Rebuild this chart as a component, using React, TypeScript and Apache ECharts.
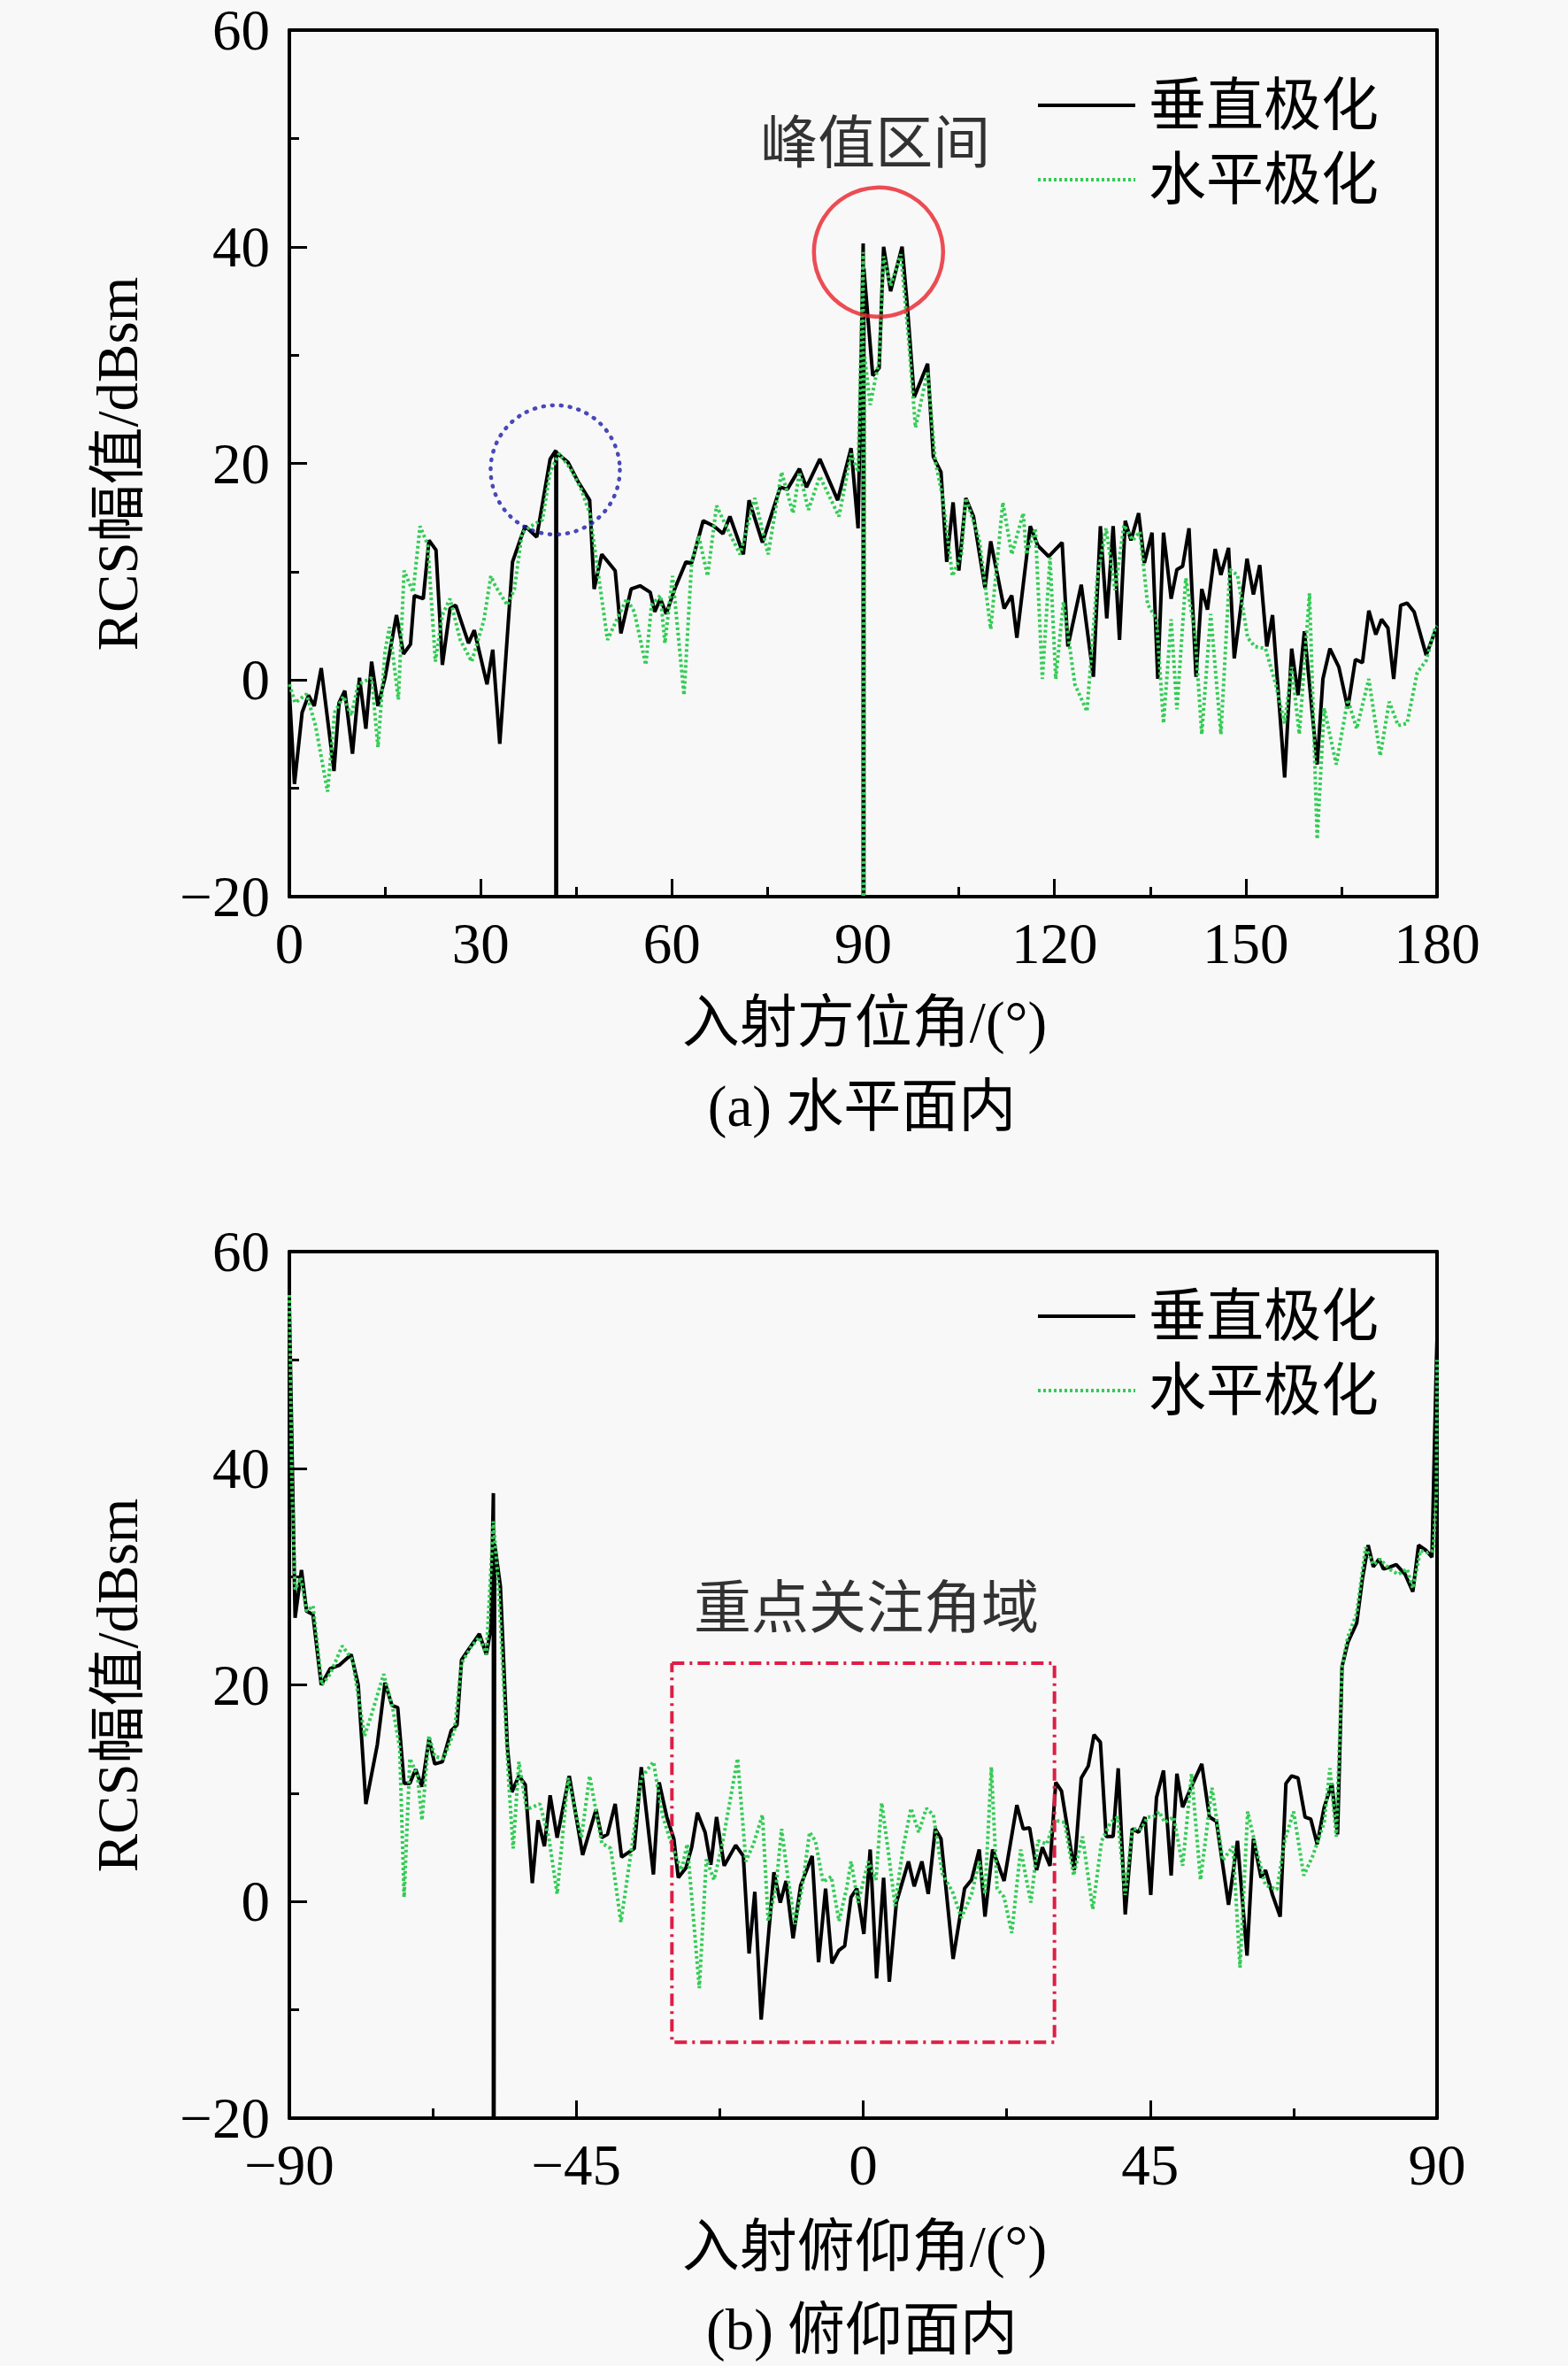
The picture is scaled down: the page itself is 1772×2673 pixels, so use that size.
import { useEffect, useRef } from "react";
import * as echarts from "echarts";

const FONT = "'Liberation Serif', 'Noto Sans CJK SC', serif";
const LEGEND_NAMES = ["垂直极化", "水平极化"];
const GREEN = "#33cc55";

// (a) horizontal plane: [azimuth deg, RCS dBsm]
const AZ_VERTICAL: [number, number][] = [
  [0, -1], [0.8, -9.6], [2.0, -3.0], [3.0, -1.4], [3.9, -2.4], [5.0, 1.1], [7.0, -8.4], [7.8, -2.1],
  [8.7, -1.0], [9.9, -6.8], [11.0, 0.2], [12.0, -4.5], [12.9, 1.7], [13.9, -2.4], [15.0, 0.2], [16.8, 6.0],
  [17.9, 2.4], [19.0, 3.3], [19.6, 7.8], [21.0, 7.5], [21.9, 12.9], [23.0, 12.0], [24.0, 1.4], [25.2, 6.6],
  [26.1, 6.9], [28.1, 3.4], [29.0, 4.6], [31.0, -0.4], [31.9, 2.8], [33.0, -5.9], [35.0, 10.9], [36.3, 13.1],
  [37.0, 14.2], [38.8, 13.2], [40.9, 20.4], [41.8, 21.2], [41.8, -20], [41.9, -20], [41.9, 21.0], [43.7, 20.1],
  [45.3, 18.3], [47.1, 16.6], [47.8, 8.4], [49.0, 11.6], [51.1, 10.1], [52.0, 4.3], [53.6, 8.4], [55.0, 8.7],
  [56.6, 8.1], [57.3, 6.3], [58.2, 7.5], [59.1, 6.1], [60.5, 8.5], [62.2, 10.9], [63.1, 10.8], [64.9, 14.7],
  [66.6, 14.2], [68.0, 13.5], [69.1, 15.1], [71.2, 11.6], [72.1, 16.6], [74.2, 12.7], [77.0, 17.8], [78.1, 17.6],
  [80.0, 19.5], [81.1, 17.8], [83.2, 20.4], [86.0, 16.6], [88.1, 21.4], [89.2, 14.0], [90.0, 40.3], [90.0, -20],
  [90.1, -20], [90.1, 38], [91.5, 28.1], [92.5, 28.8], [93.2, 40.0], [94.3, 35.9], [96.1, 40.0], [96.9, 34.7],
  [98.0, 26.1], [100.1, 29.2], [101.0, 20.6], [102.2, 19.2], [103.1, 10.9], [104.1, 16.4], [105.0, 10.1], [106.1, 16.8],
  [107.3, 15.1], [109.1, 8.5], [110.0, 12.8], [112.1, 6.6], [113.3, 7.8], [114.1, 3.9], [116.2, 14.2], [117.4, 12.4],
  [119.1, 11.4], [121.2, 12.7], [122.1, 3.1], [124.2, 8.8], [126.1, 0.3], [127.2, 14.2], [128.2, 5.7], [129.2, 14.2],
  [130.2, 3.7], [131.1, 14.7], [132.0, 12.9], [133.2, 15.4], [134.1, 10.8], [135.3, 13.6], [136.2, 0.1], [137.1, 13.6],
  [138.3, 7.5], [139.2, 10.2], [140.1, 10.5], [141.1, 14.0], [142.2, 0.3], [143.1, 8.4], [144.0, 6.5], [145.2, 12.1],
  [146.1, 9.7], [147.3, 12.2], [148.2, 2.0], [150.2, 11.2], [151.2, 7.9], [152.2, 10.6], [153.3, 3.1], [154.2, 6.0],
  [156.1, -9.0], [157.2, 2.9], [158.2, -1.4], [159.2, 4.5], [161.2, -7.8], [162.1, 0.1], [163.2, 2.9], [164.6, 1.2],
  [166.0, -2.6], [167.2, 1.9], [168.3, 1.6], [169.3, 6.4], [170.4, 4.2], [171.3, 5.6], [172.3, 4.8], [173.2, 0.1],
  [174.3, 6.9], [175.3, 7.1], [176.4, 6.3], [178.3, 2.3], [179.7, 4.5], [180, 4.8],
];

const AZ_HORIZONTAL: [number, number][] = [
  [0, -0.4], [0.9, -2.1], [2.7, -1.3], [4.1, -4.2], [6.0, -10.3], [7.1, -3.0], [8.5, -1.5], [9.7, -3.3],
  [10.8, -0.4], [12.9, 0.2], [13.9, -6.2], [15.0, 2.6], [15.7, 4.9], [17.1, -1.8], [18.0, 10.1], [19.4, 8.1],
  [20.5, 14.2], [21.7, 12.5], [22.9, 1.7], [24.0, 6.0], [25.2, 7.5], [26.8, 3.7], [28.6, 1.7], [30.5, 5.5],
  [31.6, 9.6], [32.3, 8.7], [34.2, 6.9], [35.3, 8.4], [36.5, 13.6], [37.9, 14.2], [39.7, 14.8], [40.9, 19.2],
  [42.3, 20.9], [44.1, 19.5], [45.7, 17.7], [47.1, 15.4], [48.1, 11.3], [49.9, 3.7], [51.3, 5.5], [52.9, 7.5],
  [54.1, 6.3], [55.9, 1.4], [56.8, 6.9], [58.2, 7.8], [58.9, 3.4], [60.1, 9.6], [61.9, -1.4], [63.1, 10.9],
  [64.2, 13.3], [65.6, 9.6], [67.0, 16.1], [68.9, 13.7], [70.7, 11.6], [73.0, 16.8], [75.1, 11.6], [77.2, 19.2],
  [79.0, 15.4], [80.0, 19.2], [81.4, 15.7], [83.2, 18.8], [86.2, 15.1], [88.1, 20.9], [89.2, 19.2], [90.0, 39.5],
  [90.0, -20], [90.1, -20], [90.2, 30], [91.1, 25.4], [92.5, 29.5], [93.2, 39.1], [94.3, 36.4], [95.9, 39.3],
  [97.1, 31.6], [98.2, 23.3], [100.1, 28.5], [101.3, 20.2], [102.4, 17.1], [104.0, 9.6], [105.4, 11.6], [106.1, 16.8],
  [108.2, 13.0], [110.0, 4.7], [111.9, 16.4], [113.3, 11.6], [115.1, 15.4], [115.6, 11.6], [117.0, 14.0], [118.1, 0.1],
  [119.3, 11.3], [120.2, 0.1], [121.4, 7.2], [123.2, -0.4], [125.1, -2.9], [126.7, 9.4], [128.1, 14.0], [129.5, 8.3],
  [130.9, 14.3], [132.3, 12.9], [133.4, 13.7], [134.6, 7.0], [136.0, 5.6], [137.1, -4.0], [138.3, 5.6], [139.2, -2.7],
  [140.6, 9.4], [142.0, 4.5], [143.1, -5.0], [144.5, 6.1], [146.1, -5.0], [147.5, 10.2], [148.7, 9.7], [150.3, 3.9],
  [151.4, 3.1], [153.1, 2.9], [154.7, -0.4], [156.1, -4.0], [157.2, 1.2], [158.4, -5.0], [160.0, 8.0], [161.2, -14.7],
  [162.3, -2.6], [164.2, -7.8], [166.0, -1.8], [167.4, -4.5], [169.3, 0.1], [171.1, -7.0], [172.5, -2.0], [173.9, -4.2],
  [175.3, -4.0], [176.9, 0.7], [178.3, 1.8], [179.7, 4.8], [180, 5],
];

// (b) elevation plane: [elevation deg, RCS dBsm]
const EL_VERTICAL: [number, number][] = [
  [-90, 55], [-89.1, 26.2], [-88.1, 30.6], [-87.3, 26.8], [-86.3, 26.5], [-85.0, 20.0], [-83.6, 21.5], [-82.2, 21.8],
  [-80.3, 22.8], [-79.2, 20.0], [-78.0, 9.0], [-76.2, 14.5], [-75.0, 20.2], [-73.9, 18.1], [-73.0, 17.9], [-72.0, 10.9],
  [-71.1, 10.9], [-70.2, 12.2], [-69.2, 10.6], [-68.1, 15.0], [-67.2, 12.7], [-66.0, 12.9], [-64.6, 15.8], [-63.7, 16.3],
  [-63.0, 22.3], [-62.1, 23.1], [-60.2, 24.7], [-59.1, 22.8], [-58.4, 25.2], [-58.0, 37.7], [-58.0, -20], [-57.9, -20],
  [-57.8, 33], [-56.9, 29.1], [-55.8, 14.2], [-55.1, 10.1], [-54.0, 11.6], [-53.0, 10.8], [-51.9, 1.7], [-51.0, 7.5],
  [-50.0, 5.1], [-49.1, 9.8], [-48.0, 5.9], [-46.1, 11.6], [-44.0, 4.3], [-41.9, 8.5], [-41.0, 5.9], [-40.1, 6.2],
  [-38.9, 9.0], [-37.9, 4.1], [-35.9, 4.9], [-34.8, 12.4], [-32.9, 2.5], [-32.0, 11.0], [-30.8, 7.8], [-29.7, 5.8],
  [-29.0, 2.2], [-27.8, 3.1], [-26.9, 5.0], [-26.0, 8.2], [-24.8, 6.4], [-23.9, 3.4], [-23.0, 7.8], [-21.8, 3.3],
  [-20.0, 5.2], [-18.8, 4.2], [-17.9, -4.8], [-17.0, 0.9], [-16.0, -10.9], [-14.0, 2.7], [-13.0, -0.1], [-12.1, 1.9],
  [-11.0, -3.4], [-9.8, 1.5], [-8.0, 4.2], [-7.0, -5.6], [-5.9, 1.2], [-4.9, -5.7], [-3.8, -4.5], [-2.9, -4.1],
  [-1.9, 0.4], [-1.0, 1.2], [0.1, -3.0], [1.1, 4.8], [2.1, -7.1], [3.2, 2.2], [4.1, -7.4], [5.2, -0.1],
  [7.1, 3.7], [8.0, 1.4], [9.2, 3.7], [10.2, 0.7], [11.3, 6.7], [12.2, 5.8], [14.1, -5.3], [15.9, 1.2],
  [17.0, 2.0], [18.2, 4.8], [19.1, -1.4], [20.3, 4.8], [22.1, 1.9], [24.1, 8.9], [25.1, 6.7], [26.1, 6.8],
  [27.2, 2.9], [28.1, 5.0], [29.3, 3.3], [30.2, 11.0], [31.1, 10.2], [33.1, 2.9], [34.2, 11.4], [35.3, 12.5],
  [36.2, 15.4], [37.2, 14.7], [38.1, 6.0], [39.2, 6.0], [40.0, 12.3], [41.1, -1.2], [42.2, 6.7], [43.2, 6.4],
  [44.2, 7.8], [45.1, 0.6], [46.0, 9.6], [47.1, 12.1], [48.3, 2.4], [49.2, 11.8], [50.1, 8.7], [51.4, 10.5],
  [53.1, 12.7], [54.3, 7.8], [55.4, 7.4], [57.3, -0.3], [58.7, 5.6], [60.2, -5.0], [61.2, 5.8], [62.4, 2.2],
  [63.1, 2.9], [64.2, 0.6], [65.4, -1.4], [66.3, 10.9], [67.2, 11.6], [68.2, 11.4], [69.3, 7.8], [70.2, 7.6],
  [71.2, 5.3], [72.3, 8.7], [73.5, 10.9], [74.4, 6.2], [75.1, 21.7], [76.0, 23.9], [77.4, 25.7], [78.3, 29.8],
  [79.2, 32.9], [80.0, 30.9], [80.9, 31.6], [81.6, 30.7], [82.7, 30.9], [83.6, 31.1], [85.0, 30.2], [86.2, 28.6],
  [87.1, 32.9], [88.3, 32.4], [89.2, 31.8], [89.9, 49.9], [90, 52],
];

const EL_HORIZONTAL: [number, number][] = [
  [-90, 56], [-89.6, 38.7], [-89.1, 28.8], [-88.2, 29.9], [-87.3, 26.8], [-86.3, 27.3], [-84.9, 20.0], [-83.6, 21.0],
  [-81.7, 23.6], [-80.1, 22.3], [-78.2, 15.3], [-77.1, 17.3], [-75.2, 21.0], [-73.8, 17.9], [-72.7, 14.2], [-72.0, 0.4],
  [-71.1, 13.2], [-69.9, 11.6], [-69.2, 7.5], [-68.1, 15.3], [-67.2, 13.4], [-65.8, 13.2], [-64.1, 15.8], [-63.0, 22.0],
  [-61.4, 23.6], [-60.2, 24.4], [-59.1, 22.8], [-58.0, 35.1], [-57.2, 29.1], [-55.6, 11.1], [-54.9, 4.9], [-54.0, 12.9],
  [-52.8, 8.5], [-50.7, 9.0], [-49.3, 5.9], [-48.0, 0.7], [-46.3, 11.4], [-44.2, 5.9], [-42.9, 11.6], [-41.0, 5.4],
  [-39.6, 4.9], [-38.0, -1.9], [-36.2, 5.4], [-34.8, 11.4], [-32.9, 12.9], [-31.5, 8.0], [-29.9, 5.0], [-28.5, 2.9],
  [-27.6, 5.3], [-25.7, -8.0], [-24.6, 3.9], [-23.4, 2.0], [-22.1, 5.3], [-19.7, 13.2], [-18.4, 3.7], [-17.2, 5.3],
  [-15.8, 8.0], [-14.9, -1.8], [-13.7, 1.2], [-12.8, 6.7], [-11.9, 2.6], [-10.7, -2.1], [-9.6, 1.2], [-8.4, 6.4],
  [-7.5, 5.6], [-6.3, 1.8], [-5.0, 2.3], [-3.8, -1.8], [-2.6, 1.2], [-1.9, 3.7], [-0.8, -0.1], [0.8, 3.7],
  [2.0, 2.0], [2.9, 9.1], [3.9, 4.8], [5.0, -0.4], [6.2, 4.8], [7.5, 8.6], [8.7, 6.4], [9.9, 8.6],
  [11.0, 8.0], [12.4, 2.6], [14.0, 0.9], [15.4, -1.5], [17.0, 0.7], [18.2, 3.7], [19.1, 0.7], [20.1, 12.4],
  [21.0, 1.2], [22.1, 0.4], [23.3, -2.9], [24.7, 4.8], [26.3, -0.1], [27.4, 5.6], [28.8, 5.3], [30.0, 7.5],
  [31.6, 7.3], [33.0, 2.4], [34.4, 6.0], [36.0, -0.7], [37.4, 5.6], [38.8, 7.3], [39.9, 7.8], [41.1, 0.6],
  [42.2, 6.7], [43.6, 6.7], [44.6, 7.8], [45.5, 7.8], [46.4, 8.3], [47.3, 7.3], [48.7, 7.8], [50.1, 3.3],
  [51.5, 11.8], [52.9, 2.0], [54.7, 10.5], [56.4, 3.8], [58.0, 5.1], [59.1, -6.1], [60.3, 8.3], [61.7, 4.7],
  [63.1, 1.5], [64.9, 1.1], [66.1, 5.6], [67.5, 8.3], [69.1, 2.4], [70.5, 4.2], [72.3, 7.3], [73.2, 12.3],
  [74.2, 6.0], [75.1, 21.7], [76.0, 24.4], [77.4, 26.6], [78.8, 32.7], [80.0, 31.1], [81.1, 31.6], [82.5, 30.7],
  [83.9, 30.2], [85.3, 30.7], [86.2, 28.9], [87.4, 32.4], [88.5, 32.2], [89.4, 32.4], [89.9, 37.8], [90, 50],
];

// annotations, in data coordinates
const PEAK_CIRCLE: [number, number] = [92.4, 39.5];
const SIDE_CIRCLE: [number, number] = [41.7, 19.4];
const PEAK_LABEL: [number, number] = [91.9, 49.5];
const FOCUS_BOX: [number, number][] = [[-30, 22], [30, 22], [30, -13], [-30, -13], [-30, 22]];
const FOCUS_LABEL: [number, number] = [0.5, 27.1];

const Y_MIN = -20;
const Y_MAX = 60;

function signed(v: number) {
  return v < 0 ? "\u2212" + Math.abs(v) : String(v);
}

function mainX(gridIndex: number, min: number, max: number, interval: number) {
  return {
    type: "value" as const,
    gridIndex,
    min,
    max,
    interval,
    axisLine: { show: true, onZero: false, lineStyle: { color: "#000", width: 4 } },
    axisTick: { show: true, inside: true, length: 20, lineStyle: { color: "#000", width: 3 } },
    minorTick: { show: true, splitNumber: 2, length: 11, lineStyle: { color: "#000", width: 3 } },
    splitLine: { show: false },
    axisLabel: { margin: 20, fontSize: 65, fontFamily: FONT, color: "#000", formatter: signed },
  };
}

function mainY(gridIndex: number) {
  return {
    type: "value" as const,
    gridIndex,
    min: Y_MIN,
    max: Y_MAX,
    interval: 20,
    axisLine: { show: true, onZero: false, lineStyle: { color: "#000", width: 4 } },
    axisTick: { show: true, inside: true, length: 20, lineStyle: { color: "#000", width: 3 } },
    minorTick: { show: true, splitNumber: 2, length: 11, lineStyle: { color: "#000", width: 3 } },
    splitLine: { show: false },
    axisLabel: { margin: 22, fontSize: 65, lineHeight: 46, fontFamily: FONT, color: "#000", formatter: signed },
  };
}

function frame(type: "x" | "y", gridIndex: number, min: number, max: number) {
  return {
    type: "value" as const,
    gridIndex,
    min,
    max,
    position: type === "x" ? ("top" as const) : ("right" as const),
    axisLine: { show: true, onZero: false, lineStyle: { color: "#000", width: 4 } },
    axisTick: { show: false },
    axisLabel: { show: false },
    splitLine: { show: false },
  };
}

function legend(top: number) {
  return {
    data: LEGEND_NAMES,
    orient: "vertical" as const,
    left: 1166,
    top,
    itemWidth: 110,
    itemHeight: 16,
    itemGap: 18,
    selectedMode: false,
    itemStyle: { opacity: 0 },
    lineStyle: { width: 4 },
    textStyle: { fontSize: 65, lineHeight: 66, fontFamily: FONT, color: "#000", padding: [0, 0, 0, 10] },
  };
}

function pair(gridIndex: number, vertical: [number, number][], horizontal: [number, number][]) {
  return [
    {
      name: LEGEND_NAMES[0],
      type: "line" as const,
      xAxisIndex: gridIndex,
      yAxisIndex: gridIndex,
      data: vertical,
      symbol: "none",
      lineStyle: { color: "#000", width: 4 },
      itemStyle: { color: "#000" },
    },
    {
      name: LEGEND_NAMES[1],
      type: "line" as const,
      xAxisIndex: gridIndex,
      yAxisIndex: gridIndex,
      data: horizontal,
      symbol: "none",
      lineStyle: { color: GREEN, width: 4, type: [3, 3] as number[] },
      itemStyle: { color: GREEN },
    },
  ];
}

function textMark(gridIndex: number, pos: [number, number], text: string) {
  return {
    type: "scatter" as const,
    xAxisIndex: gridIndex,
    yAxisIndex: gridIndex,
    data: [pos],
    symbolSize: 1,
    itemStyle: { color: "rgba(0,0,0,0)" },
    label: {
      show: true,
      position: "inside" as const,
      formatter: text,
      fontSize: 65,
      fontFamily: FONT,
      color: "#000",
    },
    z: 5,
  };
}

function ringMark(pos: [number, number], color: string, width: number, dash: "solid" | number[]) {
  return {
    type: "scatter" as const,
    xAxisIndex: 0,
    yAxisIndex: 0,
    data: [pos],
    symbol: "circle",
    symbolSize: 146,
    itemStyle: { color: "rgba(0,0,0,0)", borderColor: color, borderWidth: width, borderType: dash, borderCap: "round" as const },
    z: 5,
  };
}

function centeredText(x: number, y: number, text: string, rotation = 0) {
  return {
    type: "text" as const,
    x,
    y,
    rotation,
    style: {
      text,
      font: `65px ${FONT}`,
      fill: "#000",
      align: "center" as const,
      verticalAlign: "middle" as const,
    },
  };
}

export default function App() {
  const chartRef = useRef<HTMLDivElement>(null);

  useEffect(() => {
    if (!chartRef.current) return;
    const chart = echarts.init(chartRef.current, undefined, { renderer: "svg" });

    const option: echarts.EChartsOption = {
      animation: false,
      backgroundColor: "#f8f8f8",
      grid: [
        { left: 327, top: 34, width: 1297, height: 979 },
        { left: 327, top: 1414, width: 1297, height: 979 },
      ],
      xAxis: [mainX(0, 0, 180, 30), mainX(1, -90, 90, 45), frame("x", 0, 0, 180), frame("x", 1, -90, 90)],
      yAxis: [mainY(0), mainY(1), frame("y", 0, Y_MIN, Y_MAX), frame("y", 1, Y_MIN, Y_MAX)],
      legend: [legend(81), legend(1449)],
      series: [
        ...pair(0, AZ_VERTICAL, AZ_HORIZONTAL),
        ...pair(1, EL_VERTICAL, EL_HORIZONTAL),
        ringMark(PEAK_CIRCLE, "#e8202a", 4.5, "solid"),
        ringMark(SIDE_CIRCLE, "#1c1ca8", 4.5, [1, 9]),
        textMark(0, PEAK_LABEL, "峰值区间"),
        {
          type: "line",
          xAxisIndex: 1,
          yAxisIndex: 1,
          data: FOCUS_BOX,
          symbol: "none",
          lineStyle: { color: "#dc1e46", width: 4, type: [14, 6, 3, 6] },
          z: 5,
        },
        textMark(1, FOCUS_LABEL, "重点关注角域"),
      ],
      graphic: [
        centeredText(133, 524, "RCS幅值/dBsm", Math.PI / 2),
        centeredText(977, 1155, "入射方位角/(°)"),
        centeredText(974, 1250, "(a) 水平面内"),
        centeredText(133, 1904, "RCS幅值/dBsm", Math.PI / 2),
        centeredText(977, 2538, "入射俯仰角/(°)"),
        centeredText(974, 2632, "(b) 俯仰面内"),
      ],
    };

    chart.setOption(option);
    return () => chart.dispose();
  }, []);

  return (
    <div
      ref={chartRef}
      style={{ position: "absolute", left: 0, top: 0, width: 1772, height: 2673 }}
    />
  );
}
